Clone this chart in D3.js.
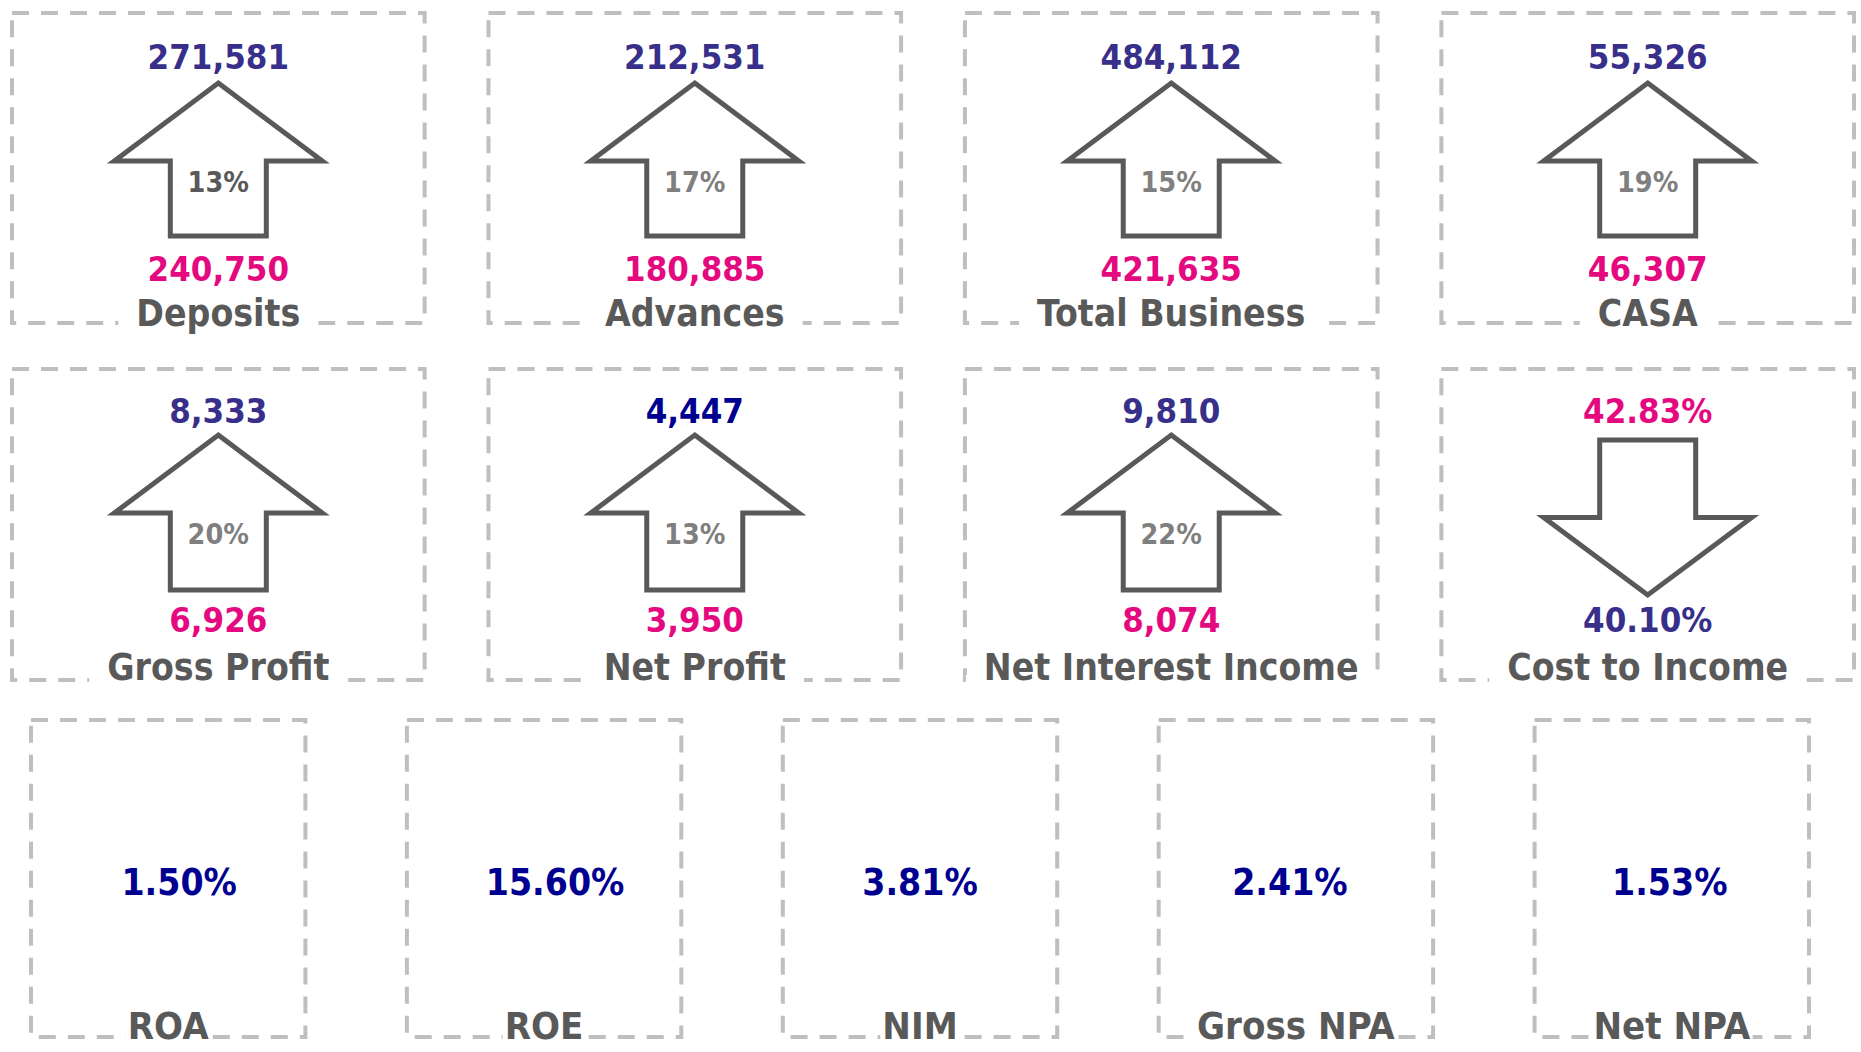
<!DOCTYPE html>
<html>
<head>
<meta charset="utf-8">
<script src="https://cdn.jsdelivr.net/npm/d3@7/dist/d3.min.js"></script>
<style>
  body { margin: 0; background: #fff; }
  text { font-family: "DejaVu Sans Condensed", "DejaVu Sans", sans-serif; font-weight: bold; font-stretch: condensed; }
</style>
</head>
<body>
<div id="kpi"></div>
<script>
(function() {

// growth tiles (current year on the arrow head side, previous year on the tail)
var metrics  = ["Deposits", "Advances", "Total Business", "CASA",
                "Gross Profit", "Net Profit", "Net Interest Income", "Cost to Income"];
var current  = [271581, 212531, 484112, 55326, 8333, 4447, 9810, 40.10];
var previous = [240750, 180885, 421635, 46307, 6926, 3950, 8074, 42.83];
var growth   = ["13%", "17%", "15%", "19%", "20%", "13%", "22%", ""];
var units    = ["", "", "", "", "", "", "", "%"];

// ratio tiles
var ratios      = ["ROA", "ROE", "NIM", "Gross NPA", "Net NPA"];
var ratioValues = [1.50, 15.60, 3.81, 2.41, 1.53];

var width = 1861, height = 1052;

var navy = "#372F8A", deep = "#000090", pink = "#E5097F",
    grey = "#595959", lightGrey = "#7F7F7F", border = "#BFBFBF";

var svg = d3.select("#kpi").append("svg")
    .attr("width", width)
    .attr("height", height);

var x = d3.scaleBand()
    .domain(d3.range(4))
    .range([12, 1854])
    .paddingInner(0.134);

// vertical layout of the two arrow rows (offsets from the box top)
var rows = [
  {top: 13,  bottom: 323, val: 56, tip: 70, base: 148, end: 223, pct: 179, low: 268, label: 3},
  {top: 369, bottom: 680, val: 54, tip: 66, base: 144, end: 221, pct: 175, low: 263, label: 0}
];

var fmt = function(v, u) {
  return u === "%" ? d3.format(".2f")(v) + "%" : d3.format(",")(v);
};

function dashedBox(g, x0, y0, x1, y1) {
  g.append("rect")
    .attr("x", x0).attr("y", y0)
    .attr("width", x1 - x0).attr("height", y1 - y0)
    .attr("fill", "none")
    .attr("stroke", border)
    .attr("stroke-width", 4)
    .attr("stroke-dasharray", "17,12");
}

// label sitting on the bottom border, with a white patch behind it
function boxLabel(g, cx, y, borderY, txt, size, pad) {
  var t = g.append("text")
    .attr("x", cx).attr("y", y)
    .attr("text-anchor", "middle")
    .attr("font-size", size)
    .attr("fill", grey)
    .text(txt);
  var bb = t.node().getBBox();
  g.insert("rect", "text")
    .attr("x", bb.x - pad).attr("y", borderY - 5)
    .attr("width", bb.width + pad * 2).attr("height", 10)
    .attr("fill", "#fff");
}

var tiles = metrics.map(function(m, i) {
  return {name: m, cur: current[i], prev: previous[i], growth: growth[i],
          unit: units[i], col: i % 4, row: Math.floor(i / 4)};
});

tiles.forEach(function(d) {
  var r = rows[d.row],
      x0 = x(d.col), x1 = x(d.col) + x.bandwidth(),
      cx = (x0 + x1) / 2,
      up = d.cur > d.prev,
      hw = 104, sw = 48;

  var g = svg.append("g").attr("class", "tile");
  dashedBox(g, x0, r.top, x1, r.bottom);

  var path;
  if (up) {
    var T = r.top + r.tip, H = r.top + r.base, B = r.top + r.end;
    path = [[cx, T], [cx + hw, H], [cx + sw, H], [cx + sw, B],
            [cx - sw, B], [cx - sw, H], [cx - hw, H]];
  } else {
    var S = r.top + r.tip + 5, E = r.top + r.end + 5, M = (S + E) / 2;
    path = [[cx - sw, S], [cx + sw, S], [cx + sw, M], [cx + hw, M],
            [cx, E], [cx - hw, M], [cx - sw, M]];
  }
  g.append("path")
    .attr("d", d3.line()(path) + "Z")
    .attr("fill", "#fff")
    .attr("stroke", grey)
    .attr("stroke-width", 5)
    .attr("stroke-linejoin", "miter");

  var topVal = up ? d.cur : d.prev,
      lowVal = up ? d.prev : d.cur;

  g.append("text")
    .attr("x", cx).attr("y", r.top + r.val)
    .attr("text-anchor", "middle")
    .attr("font-size", 34.5)
    .attr("fill", up ? (d.name === "Net Profit" ? deep : navy) : pink)
    .text(fmt(topVal, d.unit));

  if (d.growth) {
    g.append("text")
      .attr("x", cx).attr("y", r.top + r.pct)
      .attr("text-anchor", "middle")
      .attr("font-size", 28.5)
      .attr("fill", d.name === "Deposits" ? grey : lightGrey)
      .text(d.growth);
  }

  g.append("text")
    .attr("x", cx).attr("y", r.top + r.low)
    .attr("text-anchor", "middle")
    .attr("font-size", 34.5)
    .attr("fill", up ? pink : navy)
    .text(fmt(lowVal, d.unit));

  boxLabel(g, cx, r.bottom + r.label, r.bottom, d.name, 37, 18);
});

// bottom row of ratio boxes
var xr = d3.scaleBand()
    .domain(ratios)
    .range([31, 1809])
    .paddingInner(0.27);

// the percentages are not quite centred in every box
var valueShift = [11, 11, 0, -6, -2];

var rTop = 720, rBottom = 1037;

ratios.forEach(function(name, i) {
  var g = svg.append("g").attr("class", "ratio"),
      x0 = xr(name), x1 = x0 + xr.bandwidth(),
      cx = (x0 + x1) / 2;

  dashedBox(g, x0, rTop, x1, rBottom);

  g.append("text")
    .attr("x", cx + valueShift[i]).attr("y", (rTop + rBottom) / 2 + 16)
    .attr("text-anchor", "middle")
    .attr("font-size", 37)
    .attr("fill", deep)
    .text(d3.format(".2f")(ratioValues[i]) + "%");

  boxLabel(g, cx, rBottom + 2, rBottom, name, 38, 2);
});

})();
</script>
</body>
</html>
